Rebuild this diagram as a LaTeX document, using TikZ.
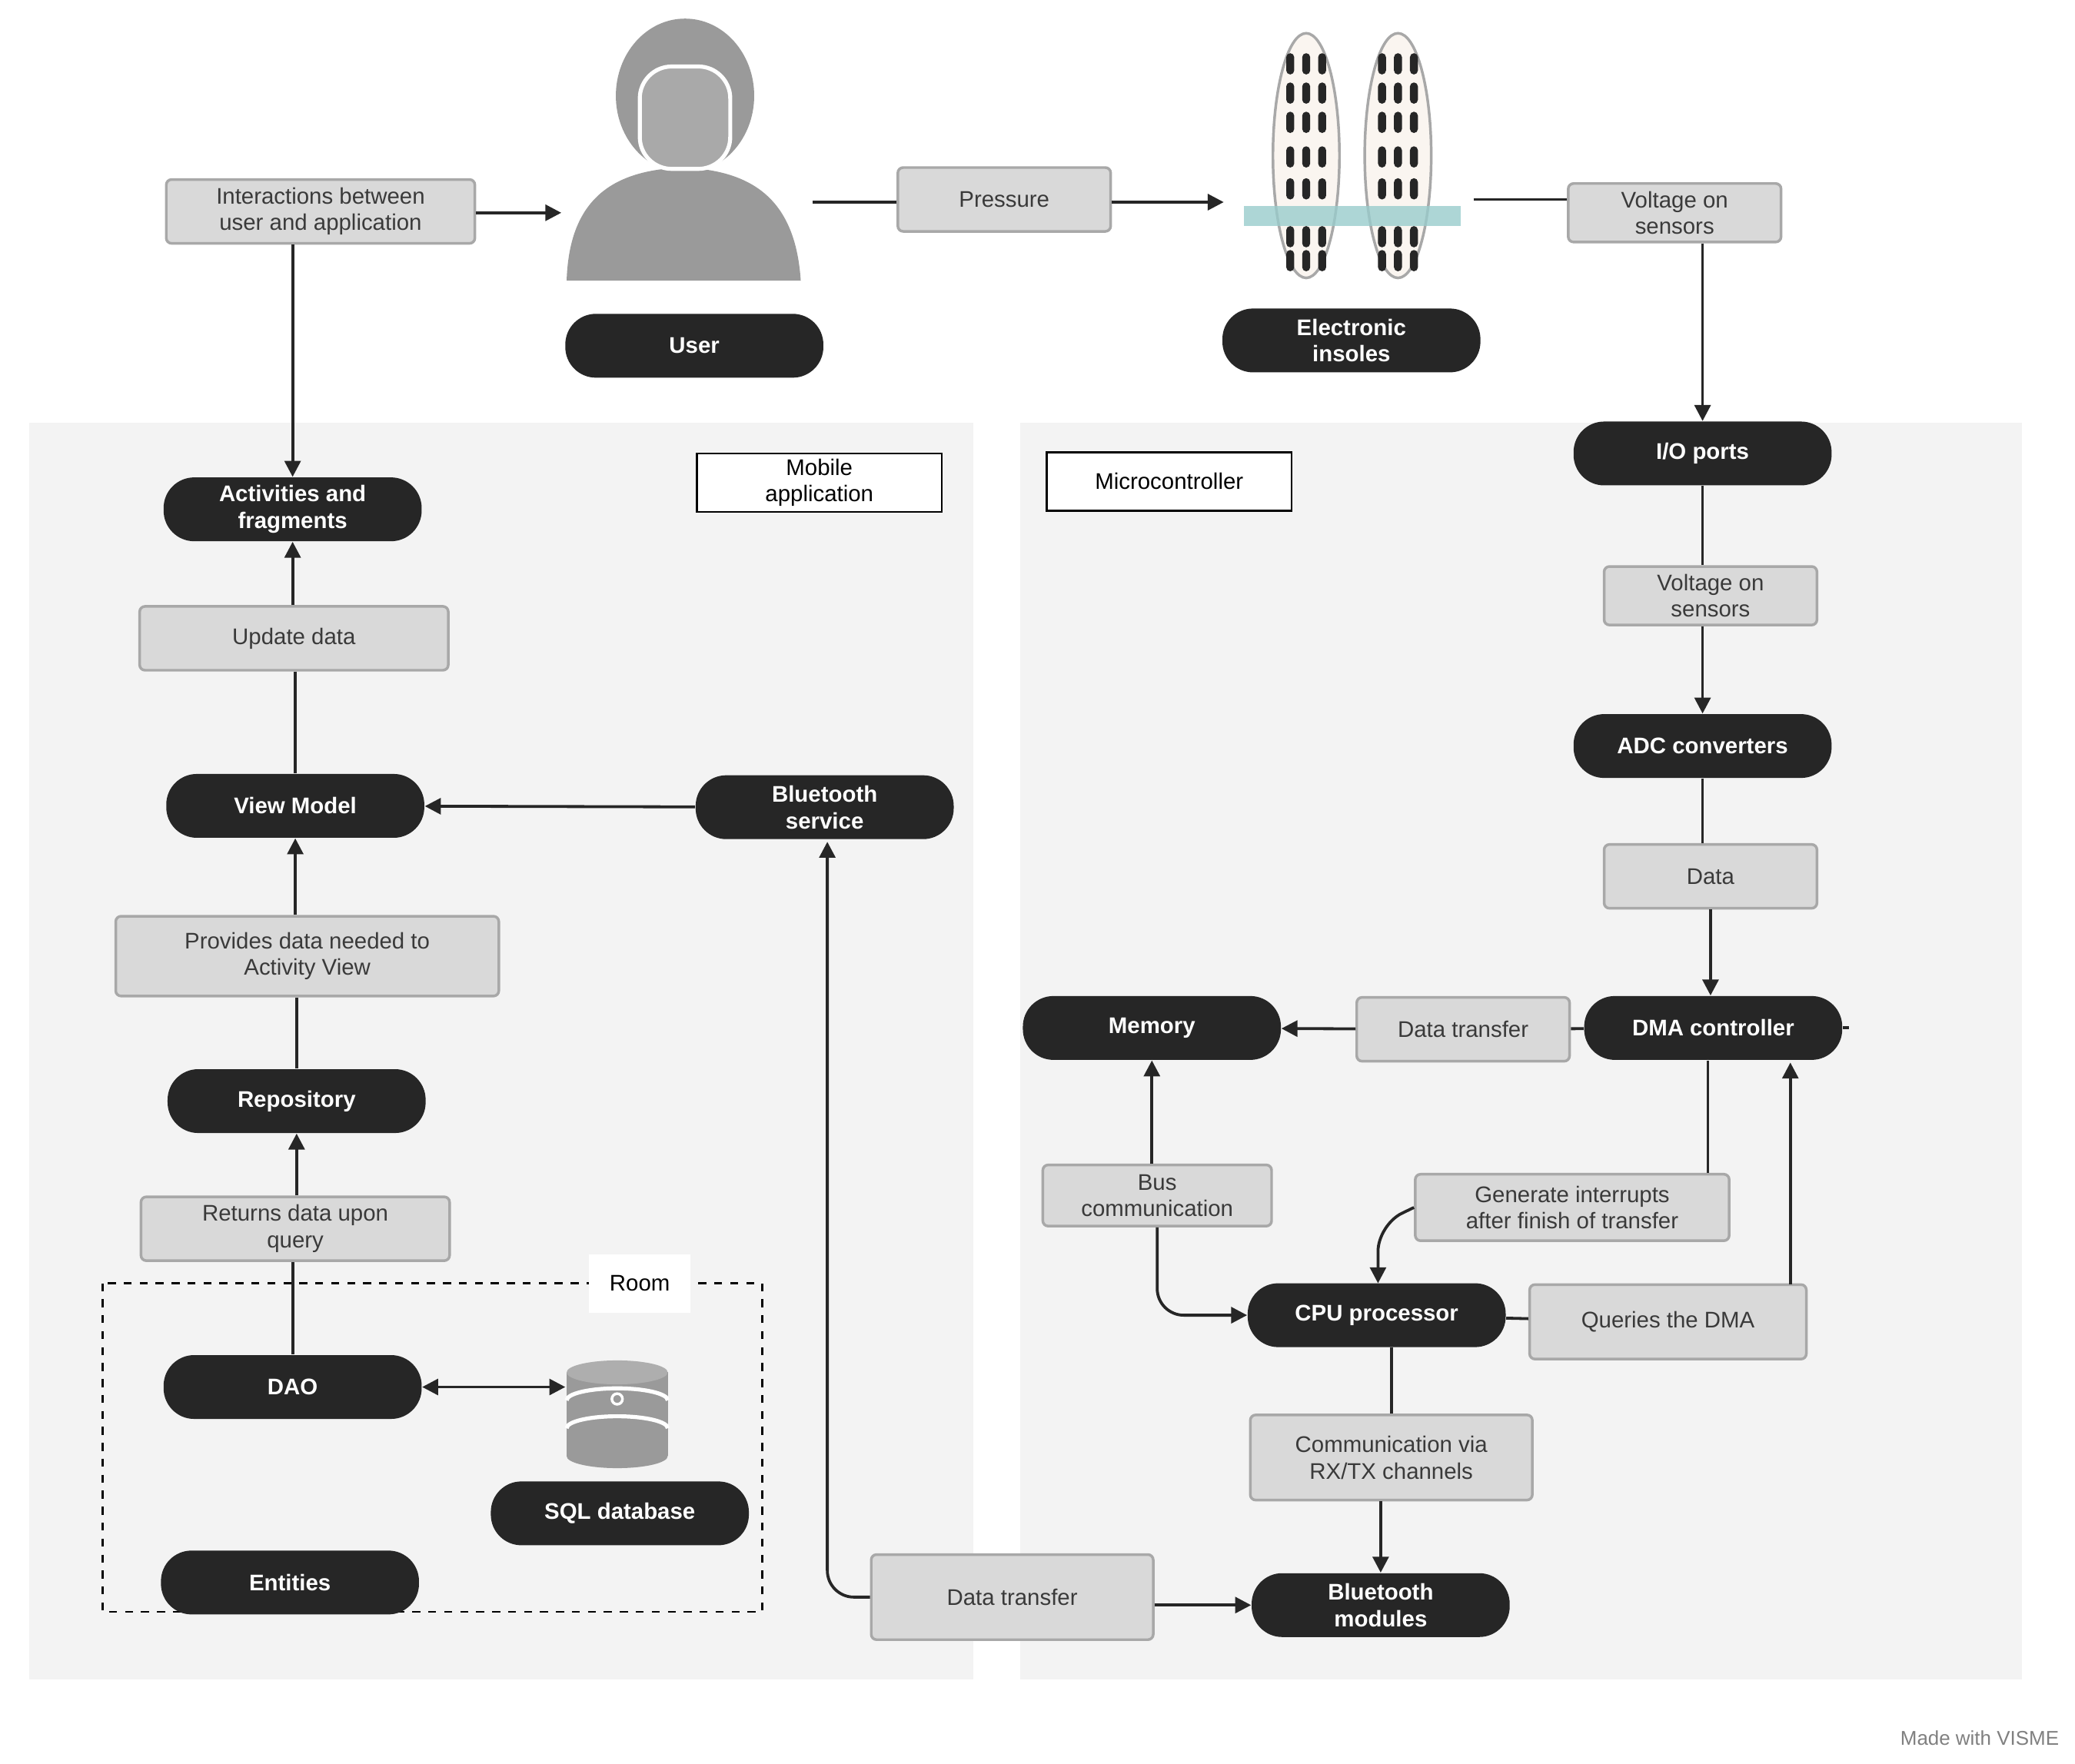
\documentclass[tikz,border=0pt]{standalone}
\usepackage{fontspec}
\setmainfont{Liberation Sans}
\usetikzlibrary{arrows.meta}
\definecolor{pan}{HTML}{F3F3F3}
\definecolor{dk}{HTML}{262626}
\definecolor{lb}{HTML}{D9D9D9}
\definecolor{lbd}{HTML}{A8A8A8}
\definecolor{txt}{HTML}{3A3A3A}
\definecolor{icon}{HTML}{9A9A9A}
\begin{document}
\begin{tikzpicture}[x=0.5pt,y=-0.5pt,
 dark/.style={fill=dk,rounded corners=11.5pt,minimum width=97pt,minimum height=24pt,text=white,font=\fontsize{8.5}{10}\selectfont\bfseries,align=center,inner sep=1pt},
 lab/.style={fill=lb,draw=lbd,line width=1pt,rounded corners=2pt,minimum height=24pt,text=txt,font=\fontsize{8.5}{10}\selectfont,align=center,inner sep=1pt},
 wbox/.style={fill=white,draw=black,line width=0.8pt,minimum width=92pt,minimum height=22pt,font=\fontsize{8.5}{10}\selectfont,align=center,inner sep=1pt},
 ln/.style={line width=1.1pt,draw=dk},
 ar/.style={ln,-{Triangle[length=6pt,width=6pt]}}]
\useasboundingbox (0,0) rectangle (1560,1326.5);
\fill[white] (0,0) rectangle (1560,1326.5);
\fill[pan] (22,318) rectangle (732,1263);
\fill[pan] (767,318) rectangle (1520,1263);
% user icon
\fill[icon] (426,211) .. controls (428,150) and (460,128) .. (513,126) .. controls (566,128) and (598,150) .. (602,211) -- cycle;
\fill[icon] (515,72) ellipse (52 and 58);
\filldraw[fill=icon!85!white,draw=white,line width=1.5pt,rounded corners=12pt] (481,50) rectangle (549,127);
% insoles
\foreach \cx in {982,1051}{
 \filldraw[fill=white!92!brown,draw=lbd,line width=1pt] (\cx,117) ellipse (25 and 92);
 \foreach \yy in {48,70,92,118,142,178,196}{
  \foreach \dx in {-12,0,12}{\fill[dk,rounded corners=1.5pt] (\cx+\dx-3,\yy-8) rectangle (\cx+\dx+3,\yy+8);}}
}
\fill[teal!40,opacity=0.8] (935,155) rectangle (1098,170);
% SQL icon
\fill[icon] (426,1032) rectangle (502,1095);
\fill[icon] (464,1095) ellipse (38 and 9);
\fill[icon!80!white] (464,1032) ellipse (38 and 9);
\draw[white,line width=1.5pt] (426,1053) arc (180:360:38 and 9);
\draw[white,line width=1.5pt] (426,1074) arc (180:360:38 and 9);
\draw[white,line width=1pt] (464,1052) circle (4);
% Room
\draw[dashed,line width=0.8pt] (77,965) rectangle (573,1212);
\node[fill=white,minimum width=38pt,minimum height=22pt,font=\fontsize{8.5}{10}\selectfont] (room) at (481,965) {Room};
% white boxes
\node[wbox] (mob) at (616,363) {Mobile\\application};
\node[wbox] (mic) at (879,362) {Microcontroller};
% dark nodes
\node[dark] (user) at (522,260) {User};
\node[dark] (ins) at (1016,256) {Electronic\\insoles};
\node[dark] (act) at (220,383) {Activities and\\fragments};
\node[dark] (vm) at (222,606) {View Model};
\node[dark] (bs) at (620,607) {Bluetooth\\service};
\node[dark] (rep) at (223,828) {Repository};
\node[dark] (dao) at (220,1043) {DAO};
\node[dark] (sql) at (466,1138) {SQL database};
\node[dark] (ent) at (218,1190) {Entities};
\node[dark] (io) at (1280,341) {I/O ports};
\node[dark] (adc) at (1280,561) {ADC converters};
\node[dark] (dma) at (1288,773) {DMA controller};
\node[dark] (mem) at (866,773) {Memory};
\node[dark] (cpu) at (1035,989) {CPU processor};
\node[dark] (btm) at (1038,1207) {Bluetooth\\modules};
% label boxes
\node[lab,minimum width=116pt] (inter) at (241,159) {Interactions between\\user and application};
\node[lab,minimum width=80pt] (pres) at (755,150) {Pressure};
\node[lab,minimum width=80pt,minimum height=22pt] (v1) at (1259,160) {Voltage on\\sensors};
\node[lab,minimum width=116pt] (upd) at (221,480) {Update data};
\node[lab,minimum width=144pt,minimum height=30pt] (prov) at (231,719) {Provides data needed to\\Activity View};
\node[lab,minimum width=116pt] (ret) at (222,924) {Returns data upon\\query};
\node[lab,minimum width=80pt,minimum height=22pt] (v2) at (1286,448) {Voltage on\\sensors};
\node[lab,minimum width=80pt] (data) at (1286,659) {Data};
\node[lab,minimum width=80pt] (dt1) at (1100,774) {Data transfer};
\node[lab,minimum width=86pt,minimum height=23pt] (bus) at (870,899) {Bus\\communication};
\node[lab,minimum width=118pt,minimum height=25pt] (gen) at (1182,908) {Generate interrupts\\after finish of transfer};
\node[lab,minimum width=104pt,minimum height=28pt] (qry) at (1254,994) {Queries the DMA};
\node[lab,minimum width=106pt,minimum height=32pt] (com) at (1046,1096) {Communication via\\RX/TX channels};
\node[lab,minimum width=106pt,minimum height=32pt] (dt2) at (761,1201) {Data transfer};
\node[text=gray,font=\fontsize{7.5}{8}\selectfont,anchor=east] (visme) at (1555,1307) {Made with VISME};
% connectors
\draw[ar] (inter.east |- 0,160) -- (422,160);
\draw[ar] (inter.south -| act.north) -- (act.north);
\coordinate (uo) at (611,152);
\draw[ln] (uo) -- (pres.west |- uo);
\coordinate (ii) at (920,152);
\draw[ar] (pres.east |- ii) -- (ii);
\coordinate (io1) at (1108,150);
\draw[ln] (io1) -- (v1.west |- io1);
\draw[ar] (v1.south -| io.north) -- (io.north);
\draw[ln] (io.south) -- (io.south |- v2.north);
\draw[ar] (v2.south -| adc.north) -- (adc.north);
\draw[ln] (adc.south) -- (adc.south |- data.north);
\draw[ar] (data.south) -- (data.south |- dma.north);
\draw[ln] (dma) -- (dt1);
\draw[ar] (dt1) -- (mem);
\coordinate (stub) at (1390,773);
\draw[ln] (dma.east) -- (stub);
\draw[ar] (bus.north -| mem.south) -- (mem.south);
\draw[ar,rounded corners=10pt] (bus.south) -- (bus.south |- cpu) -- (cpu.west);
\coordinate (gx) at (1284,0);
\draw[ln] (dma.south -| gx) -- (gen.north -| gx);
\draw[ar,rounded corners=10pt] (gen.west) -- (1036,921) -- (1036,965);
\draw[ln] (cpu) -- (qry);
\draw[ar] (1346,966) -- (1346,799);
\draw[ln] (cpu.south -| com.north) -- (com.north);
\draw[ar] (com.south -| btm.north) -- (btm.north);
\draw[ar] (dt2.east |- btm) -- (btm.west);
\draw[ar,rounded corners=10pt] (dt2.west) -- (622,1201) -- (622,633);
\draw[ar] (bs) -- (vm);
\draw[ln] (upd.south -| vm.north) -- (vm.north);
\draw[ar] (upd.north -| act.south) -- (act.south);
\draw[ln] (rep.north) -- (rep.north |- prov.south);
\draw[ar] (prov.north -| vm.south) -- (vm.south);
\draw[ln] (dao.north) -- (dao.north |- ret.south);
\draw[ar] (ret.north -| rep.south) -- (rep.south);
\draw[ln,{Triangle[length=6pt,width=6pt]}-{Triangle[length=6pt,width=6pt]}] (dao.east) -- (425,1043);
\end{tikzpicture}
\end{document}
